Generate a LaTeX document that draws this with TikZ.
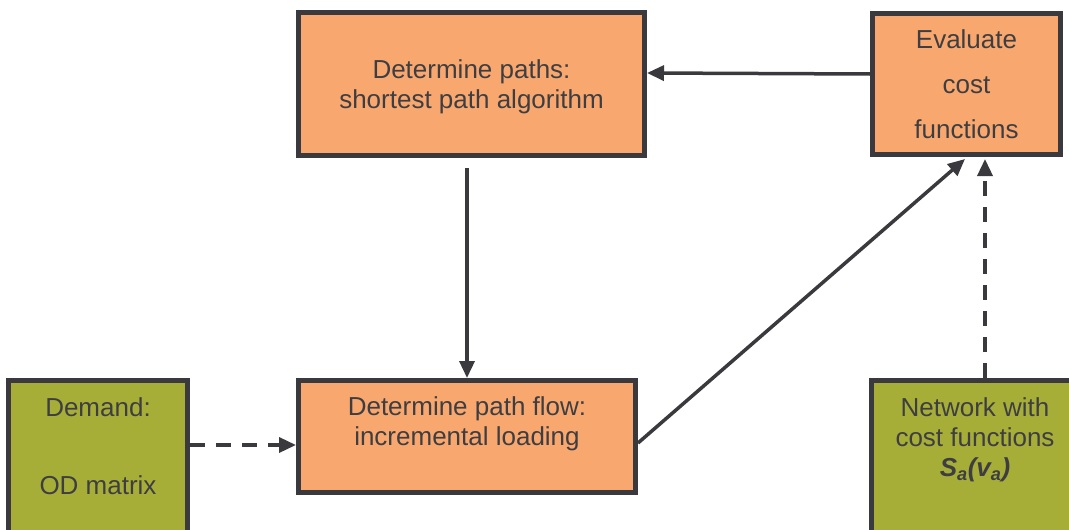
\documentclass[tikz,border=0pt]{standalone}
\usepackage{fontspec}
\setmainfont{Liberation Sans}
\usepackage{xcolor}
\definecolor{tborange}{RGB}{248,168,111}
\definecolor{tbolive}{RGB}{167,174,56}
\definecolor{tbedge}{RGB}{58,57,62}
\definecolor{tbtext}{RGB}{62,62,66}
\usetikzlibrary{arrows.meta,positioning}
\tikzset{
  stage/.style={draw=tbedge,line width=5pt,fill=tborange,inner sep=0pt,align=center,
    font=\fontsize{26}{30}\selectfont,text=tbtext},
  input/.style={draw=tbedge,line width=5pt,fill=tbolive,inner sep=0pt},
  txt/.style={align=center,font=\fontsize{26}{30}\selectfont,text=tbtext,inner sep=0pt},
  flow/.style={-{Triangle[length=17pt,width=15pt]},draw=tbedge,line width=3.5pt},
  dflow/.style={flow,dash pattern=on 15pt off 11pt},
}
\begin{document}
\begin{tikzpicture}[x=1pt,y=-1pt]
\useasboundingbox (0,0) rectangle (1069,530);
\clip (0,0) rectangle (1069,530);

% loop of the assignment
\node[stage,minimum width=346pt,minimum height=143pt] (paths) at (471.5,84) {};
\node[txt] (pathstxt) at ([yshift=-3pt]paths.center)
  {Determine paths:\\shortest path algorithm};
\node[stage,minimum width=188pt,minimum height=141pt,right=223pt of paths] (eval)
  {Evaluate\\[15pt]cost\\[15pt]functions};
\node[stage,minimum width=337pt,minimum height=112pt,
  below=220pt of paths.south west,anchor=north west] (load) {};
\node[txt] (loadtxt) at ([yshift=-46pt]load.north)
  {Determine path flow:\\incremental loading};

% inputs
\node[input,minimum width=179pt,minimum height=190pt,
  left=106pt of load.north west,anchor=north east] (dem) {};
\node[txt] (demtop) at ([yshift=-29pt]dem.north) {Demand:};
\node[txt] (dembot) at ([yshift=-107pt]dem.north) {OD matrix};

\node[input,minimum width=207pt,minimum height=190pt,
  right=231pt of load.north east,anchor=north west] (net) {};
\node[txt] (nettxt) at ([yshift=-62pt]net.north)
  {Network with\\cost functions\\{\bfseries\itshape S\textsubscript{a}(v\textsubscript{a})}};

% connectors
\draw[flow] ([yshift=10pt]eval.west) -- ([yshift=11pt]paths.east);
\draw[flow] ([xshift=-4.5pt,yshift=-10pt]paths.south) -- (load.north);
\draw[flow] ([yshift=-6.5pt]load.east) -- ([xshift=-1.5pt,yshift=-2pt]eval.south);
\draw[dflow] ([xshift=18.5pt]eval.south |- net.north) -- ([xshift=18.5pt,yshift=-2pt]eval.south);
\coordinate (din) at ([yshift=-8.5pt]load.west);
\draw[dflow] (dem.east |- din) -- (din);
\end{tikzpicture}
\end{document}
